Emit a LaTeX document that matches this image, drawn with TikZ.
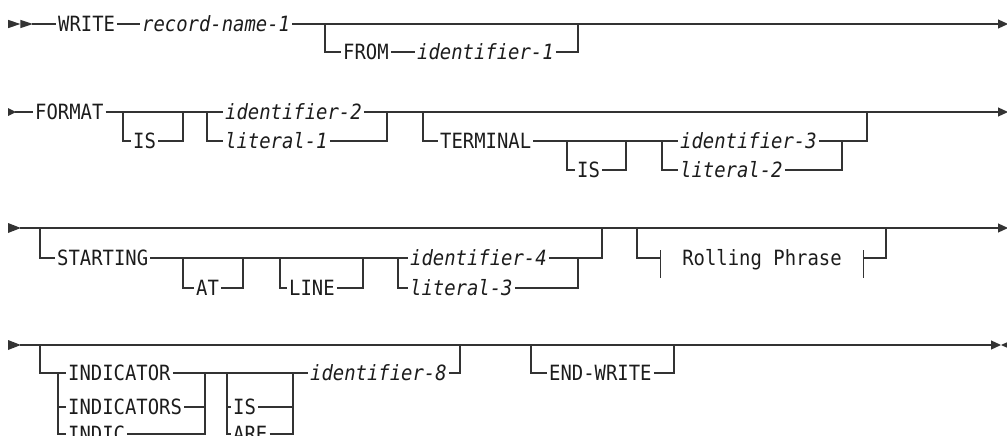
\documentclass[tikz,border=0pt]{standalone}
\usepackage{fontspec}
\setmonofont{DejaVu Sans Mono}[ItalicFont={DejaVu Sans Mono Oblique}, FakeStretch=0.9]
\usepackage{tikz}
\usetikzlibrary{positioning, arrows.meta}
\definecolor{railLine}{HTML}{333333}
\definecolor{railText}{HTML}{1C1C1C}
\newcommand{\railfont}{\ttfamily\fontsize{21}{21}\selectfont}

\begin{document}
\begin{tikzpicture}[x=1pt, y=-1pt,
      every node/.style={font=\railfont},
      kw/.style={anchor=west, text=railText, inner xsep=2pt, inner ysep=0pt,
                 text height=15pt, text depth=0pt},
      var/.style={kw, font=\railfont\itshape},
      phrase/.style={kw, anchor=center, inner xsep=0pt, minimum width=202pt},
      rail/.style={draw=railLine, line width=1.2pt},
      railtip/.style={rail, -{Triangle[length=10pt, width=9pt]}},
      heavy/.style={draw=railLine, line width=2.4pt},
      railstart/.pic={\fill[railLine] (0,-4) -- (8,0) -- (0,4) -- cycle;},
      railstop/.pic={\fill[railLine] (0,0) -- (10,-4.5) -- (10,4.5) -- cycle;},
    ]
      \useasboundingbox (0,0) rectangle (1007,436);

      % row 1: WRITE record-name-1, optional FROM
      \pic[xscale=1.55, yscale=1.05] at (8,24) {railstart};
      \pic[xscale=1.55, yscale=1.05] at (20.4,24) {railstart};
      \coordinate (r1s) at (32,24);
      \coordinate (r1e) at (1008,24);
      \node[kw] (write) at (56,24) {WRITE};
      \node[var] (rec) at (140,24) {record-name-1};
      \node[kw] (from) at (341,52) {FROM};
      \node[var] (id1) at (415,52) {identifier-1};
      \coordinate (j1a) at (325,24);
      \coordinate (j1b) at (578,24);

      \draw[rail] (r1s) -- (write.west);
      \draw[rail] (write.east) -- (rec.west);
      \draw[railtip] (rec.east) -- (r1e);
      \draw[rail] (j1a) |- (from.west);
      \draw[rail] (from.east) -- (id1.west);
      \draw[rail] (id1.east) -| (j1b);

      % row 2: FORMAT, optional TERMINAL
      \pic at (8,112) {railstart};
      \coordinate (r2s) at (15,112);
      \coordinate (r2e) at (1008,112);
      \node[kw] (fmt) at (33,112) {FORMAT};
      \node[kw] (is1) at (131,141) {IS};
      \node[var] (id2) at (223,112) {identifier-2};
      \node[var] (lit1) at (223,141) {literal-1};
      \node[kw] (term) at (438,141) {TERMINAL};
      \node[kw] (is2) at (575,170) {IS};
      \node[var] (id3) at (678,141) {identifier-3};
      \node[var] (lit2) at (678,170) {literal-2};
      \coordinate (j2a) at (123,112);
      \coordinate (j2b) at (183,112);
      \coordinate (j2c) at (207,112);
      \coordinate (j2d) at (387,112);
      \coordinate (j2e) at (423,112);
      \coordinate (j2f) at (567,141);
      \coordinate (j2g) at (626,141);
      \coordinate (j2h) at (662,141);
      \coordinate (j2i) at (842,141);
      \coordinate (j2j) at (867,112);

      \draw[rail] (r2s) -- (fmt.west);
      \draw[rail] (fmt.east) -- (id2.west);
      \draw[railtip] (id2.east) -- (r2e);
      \draw[rail] (j2a) |- (is1.west);
      \draw[rail] (is1.east) -| (j2b);
      \draw[rail] (j2c) |- (lit1.west);
      \draw[rail] (lit1.east) -| (j2d);
      \draw[rail] (j2e) |- (term.west);
      \draw[rail] (term.east) -- (id3.west);
      \draw[rail] (j2f) |- (is2.west);
      \draw[rail] (is2.east) -| (j2g);
      \draw[rail] (j2h) |- (lit2.west);
      \draw[rail] (lit2.east) -| (j2i);
      \draw[rail] (id3.east) -| (j2j);

      % row 3: optional STARTING, optional Rolling Phrase
      \pic[xscale=1.6, yscale=1.25] at (8,228) {railstart};
      \coordinate (r3s) at (20,228);
      \coordinate (r3e) at (1008,228);
      \node[kw] (strt) at (55,258) {STARTING};
      \node[kw] (atkw) at (194,288) {AT};
      \node[kw] (lne) at (287,288) {LINE};
      \node[var] (id4) at (408,258) {identifier-4};
      \node[var] (lit3) at (408,288) {literal-3};
      \node[phrase] (roll) at (762,258) {Rolling Phrase};
      \coordinate (j3a) at (40,228);
      \coordinate (j3b) at (183,258);
      \coordinate (j3c) at (243,258);
      \coordinate (j3d) at (280,258);
      \coordinate (j3e) at (363,258);
      \coordinate (j3f) at (398,258);
      \coordinate (j3g) at (578,258);
      \coordinate (j3h) at (602,228);
      \coordinate (j3i) at (637,228);
      \coordinate (j3j) at (886,228);

      \draw[railtip] (r3s) -- (r3e);
      \draw[rail] (j3a) |- (strt.west);
      \draw[rail] (strt.east) -- (id4.west);
      \draw[rail] (j3b) |- (atkw.west);
      \draw[rail] (atkw.east) -| (j3c);
      \draw[rail] (j3d) |- (lne.west);
      \draw[rail] (lne.east) -| (j3e);
      \draw[rail] (j3f) |- (lit3.west);
      \draw[rail] (lit3.east) -| (j3g);
      \draw[rail] (id4.east) -| (j3h);
      \draw[rail] (j3i) |- (roll.west);
      \draw[rail] (roll.east) -| (j3j);
      \draw[rail] (roll.west) ++(0,-8) -- ++(0,28);
      \draw[rail] (roll.east) ++(0,-8) -- ++(0,28);

      % row 4: optional INDICATOR, optional END-WRITE
      \pic[xscale=1.6, yscale=1.25] at (8,345) {railstart};
      \coordinate (r4s) at (20,345);
      \coordinate (r4e) at (1001,345);
      \node[kw] (ind1) at (66,373) {INDICATOR};
      \node[kw] (ind2) at (66,407) {INDICATORS};
      \node[kw] (ind3) at (66,434) {INDIC};
      \node[kw] (is3) at (231,407) {IS};
      \node[kw] (are) at (231,434) {ARE};
      \node[var] (id8) at (308,373) {identifier-8};
      \node[kw] (endw) at (547,373) {END-WRITE};
      \coordinate (j4a) at (40,345);
      \coordinate (j4b) at (58,373);
      \coordinate (j4c) at (205,373);
      \coordinate (j4d) at (227,373);
      \coordinate (j4e) at (293,373);
      \coordinate (j4f) at (460,345);
      \coordinate (j4g) at (531,345);
      \coordinate (j4h) at (674,345);
      \coordinate (j4i) at (680,345);
      \coordinate (j4j) at (704,345);

      \draw[railtip] (r4s) -- (r4e);
      \pic at (r4e) {railstop};
      \draw[heavy] (j4i) -- (j4j);
      \draw[rail] (j4a) |- (ind1.west);
      \draw[rail] (j4b) |- (ind2.west);
      \draw[rail] (j4b) |- (ind3.west);
      \draw[rail] (ind1.east) -- (id8.west);
      \draw[rail] (ind2.east) -| (j4c);
      \draw[rail] (ind3.east) -| (j4c);
      \draw[rail] (j4d) |- (is3.west);
      \draw[rail] (j4d) |- (are.west);
      \draw[rail] (is3.east) -| (j4e);
      \draw[rail] (are.east) -| (j4e);
      \draw[rail] (id8.east) -| (j4f);
      \draw[rail] (j4g) |- (endw.west);
      \draw[rail] (endw.east) -| (j4h);

    \end{tikzpicture}
\end{document}
